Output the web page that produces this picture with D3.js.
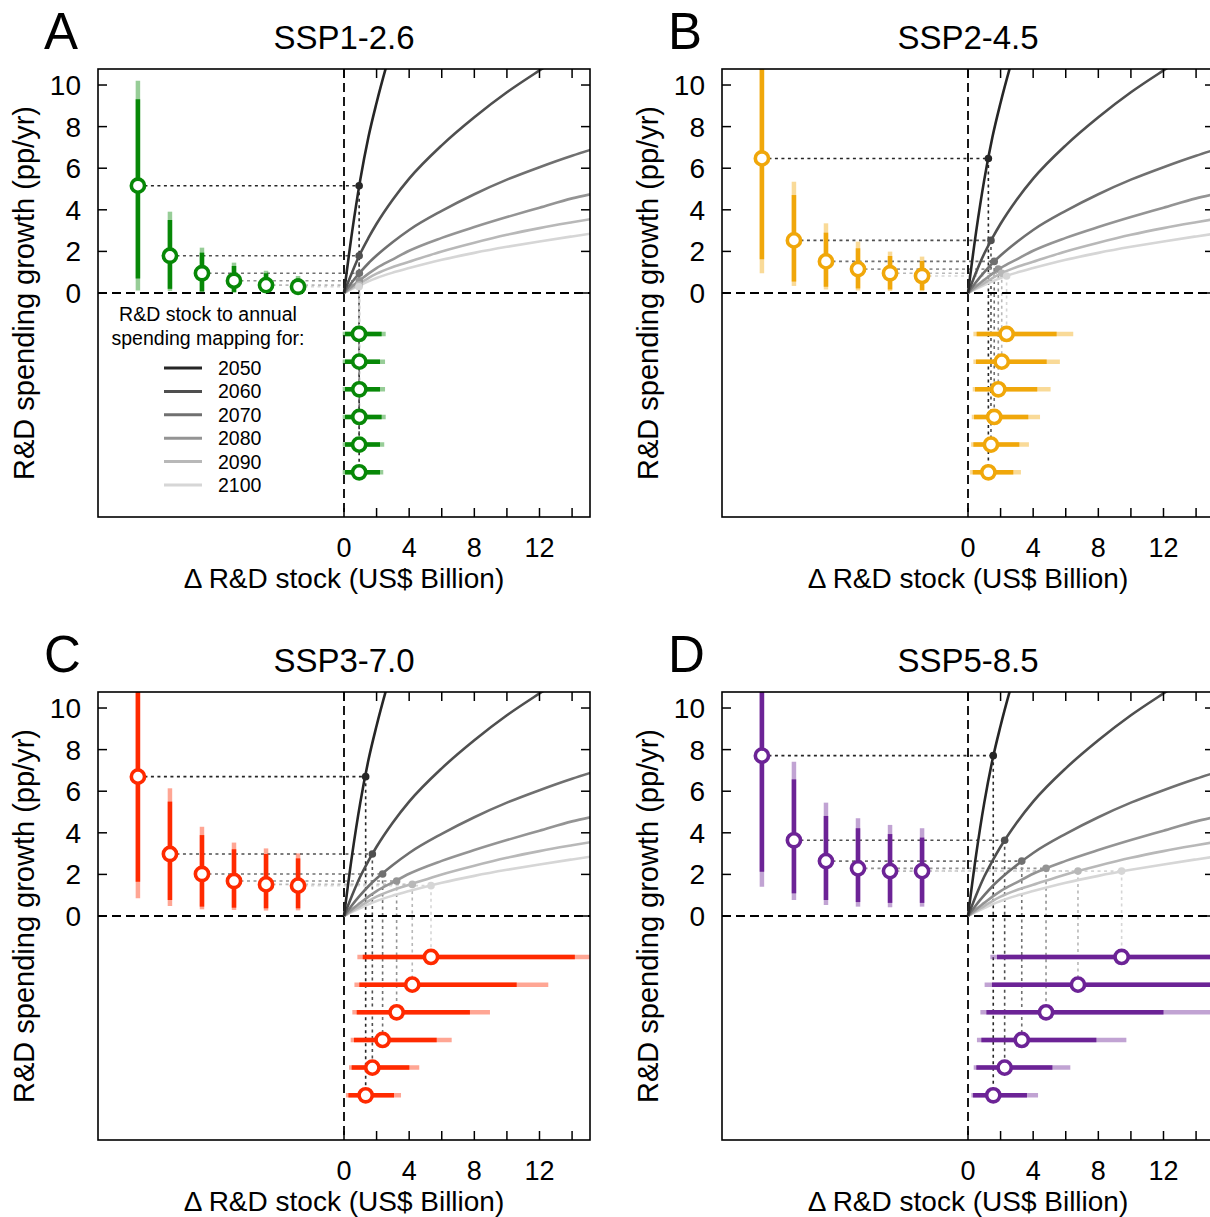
<!DOCTYPE html>
<html>
<head>
<meta charset="utf-8">
<script src="https://cdn.jsdelivr.net/npm/d3@7"></script>
<style>
  body { margin: 0; background: #fff; }
  svg text { font-family: "Liberation Sans", Arial, sans-serif; fill: #000; }
</style>
</head>
<body>
<svg id="chart" width="1210" height="1217"></svg>
<script>
// ---- data ----
var years = [2050, 2060, 2070, 2080, 2090, 2100];
var yearGreys = ["#262626", "#4f4f4f", "#707070", "#949494", "#b8b8b8", "#d6d6d6"];

var panelLetters = ["A", "B", "C", "D"];
var scenarioNames = ["SSP1-2.6", "SSP2-4.5", "SSP3-7.0", "SSP5-8.5"];
var scenarioColors = ["#078807", "#f0a70a", "#ff2a00", "#6c2396"];

// stock -> spending growth mapping curves (shared grid of stock values)
var curveStock = [0, 0.5, 1, 1.5, 2, 3, 4, 6, 8, 10, 12, 14, 15.2];
var curve2050 = [0, 2.95, 5.45, 7.5, 9.15, 12.0, 14.5, 19, 23, 27, 30, 33, 35];
var curve2060 = [0, 1.0, 1.9, 2.65, 3.33, 4.5, 5.5, 7.1, 8.45, 9.65, 10.7, 11.7, 12.3];
var curve2070 = [0, 0.53, 1.0, 1.43, 1.8, 2.45, 3.03, 3.95, 4.75, 5.45, 6.05, 6.6, 6.9];
var curve2080 = [0, 0.33, 0.63, 0.93, 1.2, 1.62, 2.03, 2.65, 3.17, 3.65, 4.1, 4.55, 4.76];
var curve2090 = [0, 0.25, 0.48, 0.72, 0.93, 1.25, 1.5, 2.0, 2.42, 2.8, 3.12, 3.4, 3.56];
var curve2100 = [0, 0.2, 0.38, 0.56, 0.72, 0.98, 1.2, 1.6, 1.93, 2.22, 2.48, 2.72, 2.86];
var curves = [curve2050, curve2060, curve2070, curve2080, curve2090, curve2100];

// R&D spending growth (pp/yr): median, inner range, outer range, per year
var growthMed     = [[5.16, 1.79, 0.95, 0.59, 0.38, 0.30],
                     [6.47, 2.53, 1.52, 1.15, 0.95, 0.82],
                     [6.70, 2.98, 2.02, 1.68, 1.52, 1.46],
                     [7.71, 3.64, 2.64, 2.29, 2.16, 2.16]];
var growthInnerLo = [[0.70, 0.20, 0.08, 0.05, 0.04, 0.03],
                     [1.62, 0.55, 0.30, 0.22, 0.17, 0.14],
                     [1.65, 0.77, 0.45, 0.40, 0.37, 0.37],
                     [2.13, 1.09, 0.77, 0.67, 0.63, 0.63]];
var growthInnerHi = [[9.31, 3.51, 1.94, 1.30, 0.95, 0.70],
                     [12.0, 4.71, 2.90, 2.15, 1.78, 1.54],
                     [12.0, 5.50, 3.89, 3.21, 2.98, 2.77],
                     [12.0, 6.57, 4.81, 4.22, 3.94, 3.77]];
var growthOuterLo = [[0.12, 0.10, 0.03, 0.01, 0.01, 0.01],
                     [0.95, 0.34, 0.17, 0.12, 0.10, 0.08],
                     [0.85, 0.48, 0.32, 0.29, 0.26, 0.27],
                     [1.41, 0.77, 0.53, 0.45, 0.42, 0.45]];
var growthOuterHi = [[10.2, 3.91, 2.18, 1.46, 1.07, 0.82],
                     [13.0, 5.35, 3.35, 2.47, 1.99, 1.75],
                     [13.0, 6.14, 4.29, 3.53, 3.25, 3.01],
                     [13.0, 7.42, 5.45, 4.70, 4.38, 4.22]];

// delta R&D stock (US$ billion)
var stockMed     = [[0.93, 0.93, 0.94, 0.94, 0.94, 0.92],
                    [1.25, 1.41, 1.61, 1.86, 2.07, 2.37],
                    [1.33, 1.74, 2.37, 3.23, 4.19, 5.34],
                    [1.55, 2.25, 3.30, 4.79, 6.75, 9.43]];
var stockInnerLo = [[0.06, 0.06, 0.06, 0.06, 0.06, 0.06],
                    [0.29, 0.33, 0.37, 0.43, 0.49, 0.53],
                    [0.27, 0.47, 0.61, 0.78, 0.94, 1.15],
                    [0.31, 0.51, 0.82, 1.13, 1.47, 1.78]];
var stockInnerHi = [[2.21, 2.21, 2.31, 2.21, 2.21, 2.31],
                    [2.78, 3.15, 3.70, 4.25, 4.83, 5.44],
                    [3.07, 4.01, 5.69, 7.73, 10.6, 14.17],
                    [3.62, 5.18, 7.88, 12.0, 17.0, 19.0]];
var stockOuterLo = [[-0.08, -0.08, -0.08, -0.08, -0.08, -0.08],
                    [0.13, 0.19, 0.23, 0.29, 0.33, 0.33],
                    [0.12, 0.31, 0.41, 0.51, 0.64, 0.82],
                    [0.21, 0.35, 0.55, 0.76, 1.02, 1.37]];
var stockOuterHi = [[2.41, 2.47, 2.56, 2.52, 2.52, 2.56],
                    [3.25, 3.74, 4.42, 5.07, 5.64, 6.46],
                    [3.50, 4.62, 6.61, 8.96, 12.54, 15.6],
                    [4.30, 6.28, 9.72, 16.0, 19.0, 21.0]];

var yTicks = [0, 2, 4, 6, 8, 10];
var xTicks = [0, 2, 4, 6, 8, 10, 12, 14];
var xTickLabels = [0, 4, 8, 12];

// ---- layout ----
var svg = d3.select("#chart");
var boxW = 492, boxH = 448;
var offsets = [[0, 0], [624, 0], [0, 623], [624, 623]];

function drawPanel(p) {
  var ox = offsets[p][0], oy = offsets[p][1];
  var left = 98 + ox, top = 69 + oy;
  var col = scenarioColors[p];

  var x = d3.scaleLinear().domain([-15.1, 15.1]).range([left, left + boxW]);
  var y = d3.scaleLinear().domain([-10.77, 10.77]).range([top + boxH, top]);
  var barX = d3.scalePoint().domain(years).range([x(-12.65), x(-2.82)]);
  var rowY = d3.scalePoint().domain(years).range([y(-8.62), y(-1.97)]);

  var g = svg.append("g");
  var clipId = "clip" + p;
  g.append("clipPath").attr("id", clipId)
    .append("rect").attr("x", left).attr("y", top).attr("width", boxW).attr("height", boxH);
  var inner = g.append("g").attr("clip-path", "url(#" + clipId + ")");

  // dotted connectors
  years.forEach(function (yr, i) {
    var sx = x(stockMed[p][i]), gy = y(growthMed[p][i]);
    inner.append("line")
      .attr("x1", barX(yr)).attr("x2", sx).attr("y1", gy).attr("y2", gy)
      .attr("stroke", yearGreys[i]).attr("stroke-width", 1.6).attr("stroke-dasharray", "3,3.5");
    inner.append("line")
      .attr("x1", sx).attr("x2", sx).attr("y1", gy).attr("y2", rowY(yr))
      .attr("stroke", yearGreys[i]).attr("stroke-width", 1.6).attr("stroke-dasharray", "3,3.5");
  });

  // zero lines
  inner.append("line").attr("x1", left).attr("x2", left + boxW).attr("y1", y(0)).attr("y2", y(0))
    .attr("stroke", "#000").attr("stroke-width", 1.8).attr("stroke-dasharray", "9,5");
  inner.append("line").attr("x1", x(0)).attr("x2", x(0)).attr("y1", top).attr("y2", top + boxH)
    .attr("stroke", "#000").attr("stroke-width", 1.8).attr("stroke-dasharray", "9,5");

  // mapping curves (lightest first)
  var line = d3.line().x(function (d) { return x(d[0]); }).y(function (d) { return y(d[1]); })
    .curve(d3.curveMonotoneX);
  for (var i = years.length - 1; i >= 0; i--) {
    var pts = curveStock.map(function (s, k) { return [s, curves[i][k]]; });
    inner.append("path").attr("d", line(pts)).attr("fill", "none")
      .attr("stroke", yearGreys[i]).attr("stroke-width", 2.6);
  }
  inner.selectAll(".cdot").data(years).enter().append("circle")
    .attr("cx", function (d, i) { return x(stockMed[p][i]); })
    .attr("cy", function (d, i) { return y(growthMed[p][i]); })
    .attr("r", 3.8)
    .attr("fill", function (d, i) { return yearGreys[i]; });

  // vertical bars: spending growth
  years.forEach(function (yr, i) {
    var bx = barX(yr);
    inner.append("line").attr("x1", bx).attr("x2", bx)
      .attr("y1", y(growthOuterLo[p][i])).attr("y2", y(growthOuterHi[p][i]))
      .attr("stroke", col).attr("stroke-opacity", 0.42).attr("stroke-width", 4.5);
    inner.append("line").attr("x1", bx).attr("x2", bx)
      .attr("y1", y(growthInnerLo[p][i])).attr("y2", y(growthInnerHi[p][i]))
      .attr("stroke", col).attr("stroke-width", 4.5);
    inner.append("circle").attr("cx", bx).attr("cy", y(growthMed[p][i])).attr("r", 6.6)
      .attr("fill", "#fff").attr("stroke", col).attr("stroke-width", 3.6);
  });

  // horizontal bars: delta stock
  years.forEach(function (yr, i) {
    var ry = rowY(yr);
    inner.append("line").attr("y1", ry).attr("y2", ry)
      .attr("x1", x(stockOuterLo[p][i])).attr("x2", x(stockOuterHi[p][i]))
      .attr("stroke", col).attr("stroke-opacity", 0.42).attr("stroke-width", 4.5);
    inner.append("line").attr("y1", ry).attr("y2", ry)
      .attr("x1", x(stockInnerLo[p][i])).attr("x2", x(stockInnerHi[p][i]))
      .attr("stroke", col).attr("stroke-width", 4.5);
    inner.append("circle").attr("cx", x(stockMed[p][i])).attr("cy", ry).attr("r", 6.6)
      .attr("fill", "#fff").attr("stroke", col).attr("stroke-width", 3.6);
  });

  // box and inward ticks
  g.append("rect").attr("x", left).attr("y", top).attr("width", boxW).attr("height", boxH)
    .attr("fill", "none").attr("stroke", "#000").attr("stroke-width", 1.6);
  var tl = 9;
  yTicks.forEach(function (v) {
    g.append("line").attr("x1", left).attr("x2", left + tl).attr("y1", y(v)).attr("y2", y(v))
      .attr("stroke", "#000").attr("stroke-width", 1.5);
    g.append("line").attr("x1", left + boxW).attr("x2", left + boxW - tl).attr("y1", y(v)).attr("y2", y(v))
      .attr("stroke", "#000").attr("stroke-width", 1.5);
    g.append("text").attr("x", left - 17).attr("y", y(v) + 10).attr("text-anchor", "end")
      .attr("font-size", 28).text(v);
  });
  xTicks.forEach(function (v) {
    g.append("line").attr("x1", x(v)).attr("x2", x(v)).attr("y1", top).attr("y2", top + tl)
      .attr("stroke", "#000").attr("stroke-width", 1.5);
    g.append("line").attr("x1", x(v)).attr("x2", x(v)).attr("y1", top + boxH).attr("y2", top + boxH - tl)
      .attr("stroke", "#000").attr("stroke-width", 1.5);
  });
  xTickLabels.forEach(function (v) {
    g.append("text").attr("x", x(v)).attr("y", top + boxH + 40).attr("text-anchor", "middle")
      .attr("font-size", 27).text(v);
  });

  // titles
  g.append("text").attr("x", left + boxW / 2).attr("y", top + boxH + 71).attr("text-anchor", "middle")
    .attr("font-size", 28).text("\u0394 R&D stock (US$ Billion)");
  g.append("text").attr("transform", "translate(" + (34 + ox) + "," + (top + boxH / 2) + ") rotate(-90)")
    .attr("text-anchor", "middle").attr("font-size", 29).text("R&D spending growth (pp/yr)");
  g.append("text").attr("x", left + boxW / 2).attr("y", 49 + oy).attr("text-anchor", "middle")
    .attr("font-size", 33).text(scenarioNames[p]);
  g.append("text").attr("x", 44 + ox).attr("y", 49 + oy).attr("font-size", 51).text(panelLetters[p]);

  // legend in first panel
  if (p === 0) {
    var lg = g.append("g");
    lg.append("text").attr("x", 208).attr("y", 321).attr("text-anchor", "middle").attr("font-size", 19.5)
      .text("R&D stock to annual");
    lg.append("text").attr("x", 208).attr("y", 345).attr("text-anchor", "middle").attr("font-size", 19.5)
      .text("spending mapping for:");
    var legY = d3.scalePoint().domain(years).range([368, 485]);
    years.forEach(function (yr, i) {
      lg.append("line").attr("x1", 164).attr("x2", 202).attr("y1", legY(yr)).attr("y2", legY(yr))
        .attr("stroke", yearGreys[i]).attr("stroke-width", 3);
      lg.append("text").attr("x", 218).attr("y", legY(yr) + 7).attr("font-size", 19.5).text(yr);
    });
  }
}

[0, 1, 2, 3].forEach(drawPanel);
</script>
</body>
</html>
